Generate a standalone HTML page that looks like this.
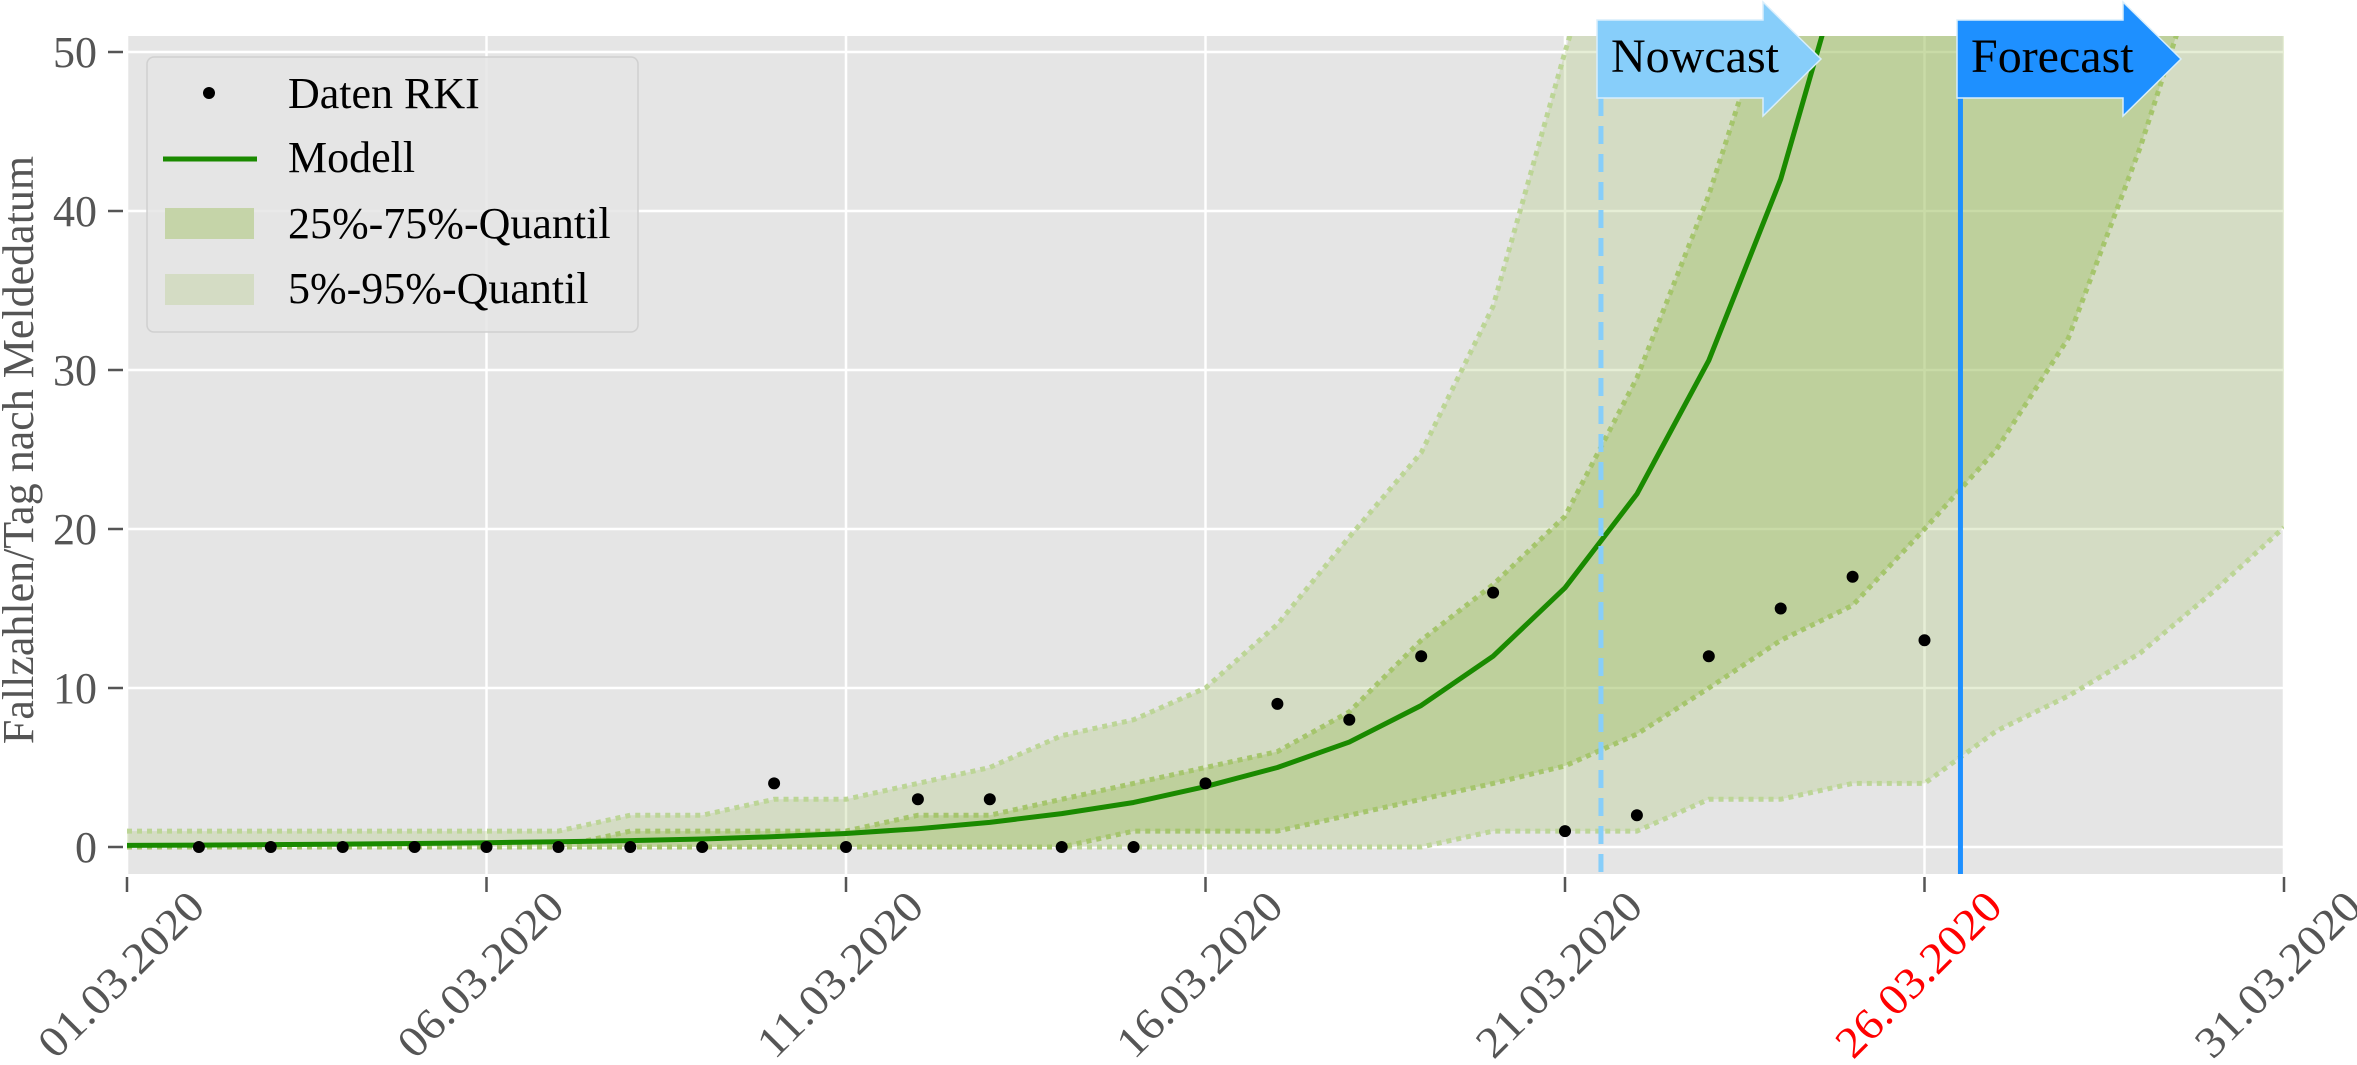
<!DOCTYPE html>
<html><head><meta charset="utf-8"><style>
html,body{margin:0;padding:0;background:#fff;}
svg{display:block;font-family:"Liberation Serif",serif;}
</style></head><body>
<svg id="chart" width="2357" height="1065" viewBox="0 0 2357 1065" xmlns="http://www.w3.org/2000/svg">
<defs><clipPath id="plotclip"><rect x="127" y="36" width="2157" height="838"/></clipPath></defs>
<rect x="127" y="36" width="2157" height="838" fill="#e5e5e5"/>
<g id="grid"></g>
<g id="bands" clip-path="url(#plotclip)"></g>
<g id="marks" clip-path="url(#plotclip)"></g>
<g id="axes"></g>
<g id="overlay"></g>
</svg>
<script>
const xTickLabels = ["01.03.2020","06.03.2020","11.03.2020","16.03.2020","21.03.2020","26.03.2020","31.03.2020"];
const xTickDays = [0,5,10,15,20,25,30];
const yTicks = [0,10,20,30,40,50];
const dataDays = [1,2,3,4,5,6,7,8,9,10,11,12,13,14,15,16,17,18,19,20,21,22,23,24,25];
const dataValues = [0,0,0,0,0,0,0,0,4,0,3,3,0,0,4,9,8,12,16,1,2,12,15,17,13];
const modelValues = [0.1,0.12,0.15,0.18,0.22,0.27,0.33,0.4,0.5,0.65,0.85,1.15,1.55,2.1,2.8,3.8,5.0,6.6,8.9,12.0,16.3,22.2,30.6,42,57.7];
const upper95 = [1,1,1,1,1,1,1,2,2,3,3,4,5,7,8,10,14,19.5,24.8,34,50,65,70,70,70,70,70,70,70,70,70];
const upper75 = [0,0,0,0,0,0,0,1,1,1,1,2,2,3,4,5,6,8.5,13,16.5,20.8,29.5,41,55,65,70,70,70,70,70,70];
const lower25 = [0,0,0,0,0,0,0,0,0,0,0,0,0,0,1,1,1,2,3,4,5.1,7.1,10,13,15.2,20,25,32,44,58,65];
const lower5 = [0,0,0,0,0,0,0,0,0,0,0,0,0,0,0,0,0,0,0,1,1,1,3,3,4,4,7.3,9.5,12.2,16,20.1];
const nowcastDay = 20.5;
const forecastDay = 25.5;

const NS="http://www.w3.org/2000/svg";
const X0=127, DX=71.9, Y0=847, DY=15.9;
function xs(d){return X0+d*DX;}
function ys(v){return Y0-v*DY;}
function mk(tag,attrs,parent){const e=document.createElementNS(NS,tag);for(const k in attrs)e.setAttribute(k,attrs[k]);parent.appendChild(e);return e;}
const grid=document.getElementById('grid'),bands=document.getElementById('bands'),marks=document.getElementById('marks'),axes=document.getElementById('axes'),overlay=document.getElementById('overlay');

yTicks.forEach(v=>{
  const l=mk('line',{x1:127,x2:2284,y1:ys(v),y2:ys(v),stroke:'#fff','stroke-width':2.5},grid);
  
  
  const t=mk('line',{x1:108,x2:123,y1:ys(v),y2:ys(v),stroke:'#555','stroke-width':2.5},axes);
  
  
  const tx=mk('text',{x:97,y:ys(v)+15,'text-anchor':'end','font-size':44,fill:'#555'},axes);
  tx.textContent=String(v);
  
  
});
xTickDays.forEach((d,i)=>{
  const l=mk('line',{x1:xs(d),x2:xs(d),y1:36,y2:874,stroke:'#fff','stroke-width':2.5},grid);
  
  
  const t=mk('line',{x1:xs(d),x2:xs(d),y1:877,y2:892,stroke:'#555','stroke-width':2.5},axes);
  
  
  const ax=xs(d)+80, ay=909;
  const tx=mk('text',{x:ax,y:ay,'text-anchor':'end','font-size':44,fill:(i===5?'#ff0000':'#555'),transform:`rotate(-45 ${ax} ${ay})`,textLength:214,lengthAdjust:'spacingAndGlyphs'},axes);
  tx.textContent=xTickLabels[i];
  
  
});

function band(up,lo,fill,op){
  let pts=up.map((v,i)=>xs(i)+','+ys(v));
  for(let i=lo.length-1;i>=0;i--)pts.push(xs(i)+','+ys(lo[i]));
  return mk('polygon',{points:pts.join(' '),fill:fill,'fill-opacity':op},bands);
}
function edge(arr,color){
  return mk('polyline',{points:arr.map((v,i)=>xs(i)+','+ys(v)).join(' '),fill:'none',stroke:color,'stroke-width':5,'stroke-dasharray':'5 5'},bands);
}
const b1=band(upper95,lower5,'#acc777',0.3);


const b2=band(upper75,lower25,'#9dbe61',0.4);


[[upper95,'#bcd596'],[lower5,'#bcd596'],[upper75,'#a5c56c'],[lower25,'#a5c56c']].forEach(([a,c])=>{
  const e=edge(a,c);
  
  
});

const ml=mk('polyline',{points:modelValues.map((v,i)=>xs(i)+','+ys(v)).join(' '),fill:'none',stroke:'#1a8a00','stroke-width':5,'stroke-linejoin':'round'},marks);


dataDays.forEach((d,i)=>{
  const c=mk('circle',{cx:xs(d),cy:ys(dataValues[i]),r:6,fill:'#000'},marks);
  
  
});

const nl=mk('line',{x1:xs(nowcastDay),x2:xs(nowcastDay),y1:98,y2:874,stroke:'#87cefa','stroke-width':5,'stroke-dasharray':'18 10'},overlay);


const fl=mk('line',{x1:xs(forecastDay),x2:xs(forecastDay),y1:98,y2:874,stroke:'#1e90ff','stroke-width':5},overlay);



function arrow(x0,color,label,name){
  const g=mk('g',{},overlay);
  const p=mk('polygon',{points:`${x0},20 ${x0+166},20 ${x0+166},2 ${x0+224},59 ${x0+166},116 ${x0+166},98 ${x0},98`,fill:color,stroke:'#d8eefc','stroke-width':1.5},g);
  
  
  const t=mk('text',{x:x0+14,y:72,'font-size':48,fill:'#000'},g);
  t.textContent=label;
  
  
  
  
}
arrow(1597,'#87cefa','Nowcast','nowcast');
arrow(1957,'#1e90ff','Forecast','forecast');

const yl=mk('text',{x:0,y:0,'font-size':44,fill:'#555','text-anchor':'middle',transform:'translate(33 450) rotate(-90)'},axes);
yl.textContent='Fallzahlen/Tag nach Meldedatum';



const lg=mk('g',{},overlay);


mk('rect',{x:147,y:57,width:491,height:275,rx:7,fill:'#e5e5e5','fill-opacity':0.85,stroke:'#d0d0d0','stroke-width':1.5},lg);
const ld=mk('circle',{cx:209,cy:93,r:6,fill:'#000'},lg);


const lm=mk('line',{x1:163,x2:257,y1:159,y2:159,stroke:'#1a8a00','stroke-width':5},lg);


const p1=mk('rect',{x:165,y:208,width:89,height:31,fill:'#c5d4a8'},lg);


const p2=mk('rect',{x:165,y:274,width:89,height:31,fill:'#d4dcc4'},lg);


[['Daten RKI',108],['Modell',172],['25%-75%-Quantil',238],['5%-95%-Quantil',303]].forEach(([s,y])=>{
  const t=mk('text',{x:288,y:y,'font-size':44,fill:'#000'},lg);
  t.textContent=s;
  
  
});
</script>
</body></html>
